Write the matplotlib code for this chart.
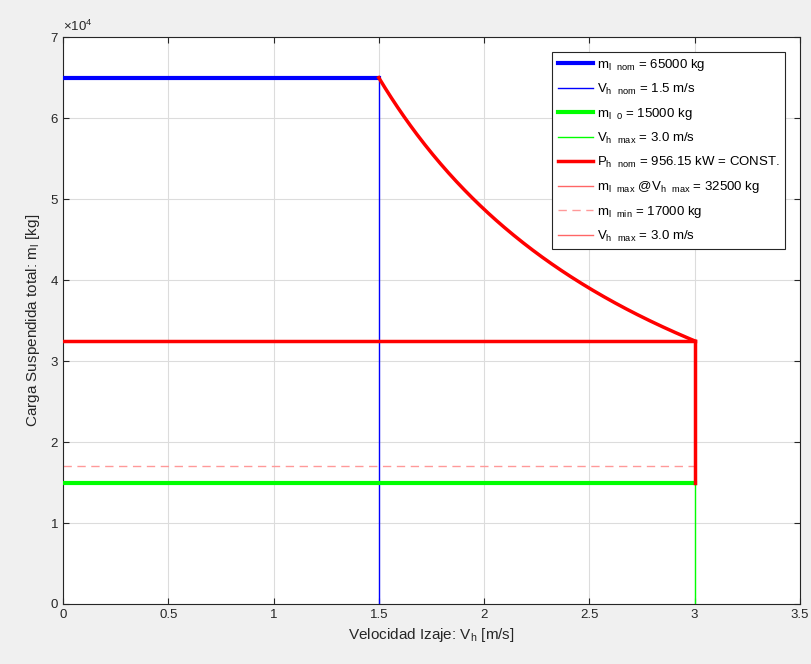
import numpy as np
import matplotlib
matplotlib.use("Agg")
from matplotlib import pyplot as plt
from matplotlib.ticker import FuncFormatter

plt.rcParams['font.family'] = ['Liberation Sans', 'DejaVu Sans']
plt.rcParams['mathtext.default'] = 'regular'

# datos
m_l_nom = 65000
v_h_nom = 1.5
m_l_0 = 15000
v_h_max = 3.0
m_l_max = 32500
m_l_min = 17000
P_h_nom = 956.15

v_curve = np.linspace(v_h_nom, v_h_max, 200)
m_curve = m_l_nom * v_h_nom / v_curve

labels = [
    "m$_{l\\ \\ nom}$ = 65000 kg",
    "V$_{h\\ \\ nom}$ = 1.5 m/s",
    "m$_{l\\ \\ 0}$ = 15000 kg",
    "V$_{h\\ \\ max}$ = 3.0 m/s",
    "P$_{h\\ \\ nom}$ = 956.15 kW = CONST.",
    "m$_{l\\ \\ max}$ @V$_{h\\ \\ max}$ = 32500 kg",
    "m$_{l\\ \\ min}$ = 17000 kg",
    "V$_{h\\ \\ max}$ = 3.0 m/s",
]

fig = plt.figure(figsize=(8.12, 6.64), dpi=100, facecolor="#f0f0f0")
ax = fig.add_axes([0.0776, 0.0904, 0.9074, 0.8536])
ax.set_facecolor("white")

h = []
h += ax.plot([0, v_h_nom], [m_l_nom, m_l_nom], color="#0000ff", lw=3, label=labels[0], zorder=4)
h += ax.plot([v_h_nom, v_h_nom], [0, m_l_nom], color="#0000ff", lw=1, label=labels[1], zorder=2)
h += ax.plot([0, v_h_max], [m_l_0, m_l_0], color="#00ff00", lw=3, label=labels[2], zorder=4)
h += ax.plot([v_h_max, v_h_max], [0, m_l_0], color="#00ff00", lw=1, label=labels[3], zorder=2)
h += ax.plot(v_curve, m_curve, color="#ff0000", lw=2.5, label=labels[4], zorder=4)
ax.plot([0, v_h_max], [m_l_max, m_l_max], color="#ff0000", lw=2.5, zorder=4)
ax.plot([v_h_max, v_h_max], [m_l_0, m_l_max], color="#ff0000", lw=2.5, zorder=4)
h += ax.plot([0, v_h_max], [m_l_max, m_l_max], color="#ff6666", lw=1, label=labels[5], zorder=2)
h += ax.plot([0, v_h_max], [m_l_min, m_l_min], color="#ff9999", lw=1, ls=(0, (6, 4)), label=labels[6], zorder=2)
h += ax.plot([v_h_max, v_h_max], [m_l_0, m_l_max], color="#ff6666", lw=1, label=labels[7], zorder=2)

ax.set_xlim(0, 3.5)
ax.set_ylim(0, 70000)
ax.set_xticks(np.arange(0, 3.51, 0.5))
ax.set_xticklabels(["0", "0.5", "1", "1.5", "2", "2.5", "3", "3.5"])
ax.set_yticks(np.arange(0, 70001, 10000))
ax.yaxis.set_major_formatter(FuncFormatter(lambda v, p: "%d" % round(v / 1e4)))
ax.grid(True, color="#dcdcdc", lw=0.8)
ax.set_axisbelow(True)
ax.tick_params(direction="in", top=True, right=True, labelsize=9.5, colors="#262626", length=4)
for s in ax.spines.values():
    s.set_color("#262626")
    s.set_linewidth(0.8)

ax.text(0.0, 1.005, "$\\times10^4$", transform=ax.transAxes, fontsize=9.5, color="#262626",
        ha="left", va="bottom")
ax.set_xlabel("Velocidad Izaje: V$_h$ [m/s]", fontsize=11, color="#262626", labelpad=4)
ax.set_ylabel("Carga Suspendida total: m$_l$ [kg]", fontsize=11, color="#262626", labelpad=6)

leg = ax.legend(handles=h, loc="upper right", fontsize=9.5, fancybox=False, framealpha=1,
                edgecolor="#262626", handlelength=2.7, labelspacing=0.68,
                borderaxespad=1.1, handletextpad=0.3, borderpad=0.4)
leg.get_frame().set_linewidth(0.8)
leg.set_zorder(10)

fig.savefig("out.png", dpi=100, facecolor=fig.get_facecolor())
